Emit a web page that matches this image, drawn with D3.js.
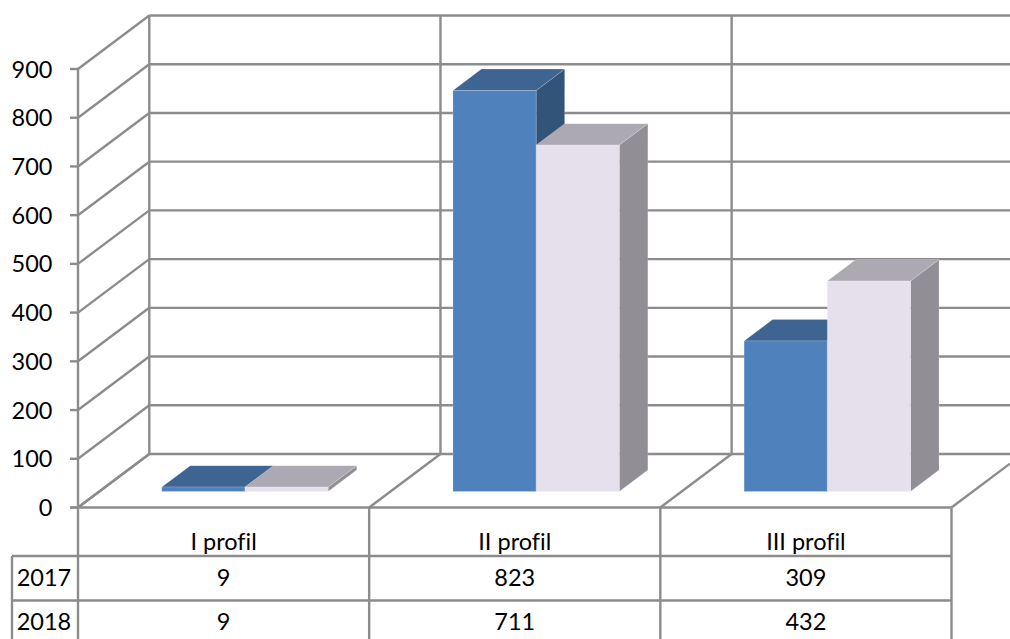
<!DOCTYPE html>
<html><head><meta charset="utf-8">
<script src="https://cdn.jsdelivr.net/npm/d3@7"></script>
<style>html,body{margin:0;background:#fff}svg{display:block}text{font-family:Lato,"Open Sans",sans-serif;font-size:23.5px;fill:#000;font-variant-ligatures:none}</style>
</head><body><svg id="c" width="1010" height="639"></svg>
<script>
const categories = ["I profil","II profil","III profil"];
const seriesNames = ["2017","2018"];
const values2017 = [9,823,309];
const values2018 = [9,711,432];
const tickValues = [0,100,200,300,400,500,600,700,800,900];
const frontColors = ["#4F81BD","#E6E0EC"], topColors = ["#3E6491","#ADA9B3"], sideColors = ["#335479","#918E95"];
const grid = "#8C8C8C";

const svg = d3.select("#c");
const W = 1010;
const x = d3.scaleBand().domain(categories).range([78,951.5]);
const y = d3.scaleLinear().domain([0,900]).range([507.5,69]);
const dX = 71.3, dY = -53.5;             // full depth of the 3-D box
const barT0 = 0.3, barT1 = 0.7;          // bar depth within the box
const at = (px,py,t)=>[px+dX*t, py+dY*t];
const line = (a,b,w=2.4)=>svg.append("line").attr("x1",a[0]).attr("y1",a[1]).attr("x2",b[0]).attr("y2",b[1]).attr("stroke",grid).attr("stroke-width",w);

// walls
tickValues.forEach(v=>{
  const p=[x.range()[0],y(v)];
  const q=at(p[0],p[1],1);
  line(p,q);
  line(q,[W,q[1]]);
  line([70,p[1]],p);
});
const bounds = categories.map(c=>x(c)).concat([x.range()[1]]);
bounds.slice(0,3).forEach(b=>line(at(b,y(0),1),at(b,y(900),1)));
line([x.range()[0],y(0)],[x.range()[0],y(900)]);
bounds.forEach(b=>{
  const end = at(b,y(0),1);
  const k = end[0]>W ? (W-b)/dX : 1;
  line([b,y(0)],at(b,y(0),k));
});
line([70,y(0)],[x.range()[1],y(0)]);

// bars
const inner = d3.scaleBand().domain(seriesNames).paddingInner(0).paddingOuter(0.75)
  .range([0,x.bandwidth()]);
const h0 = y(0);
const poly=(pts,fill)=>svg.append("polygon").attr("points",pts.map(p=>p.join(",")).join(" ")).attr("fill",fill).attr("stroke","#fff").attr("stroke-opacity",.25).attr("stroke-width",.7);
const depth=barT1-barT0;
categories.forEach((c,i)=>{
  [values2017,values2018].forEach((vals,s)=>{
    const xl=x(c)+inner(seriesNames[s])+dX*barT0, xr=xl+inner.bandwidth();
    const yb=h0+dY*barT0, yt=yb-(h0-y(vals[i]));
    const ddx=dX*depth, ddy=dY*depth;
    poly([[xr,yt],[xr+ddx,yt+ddy],[xr+ddx,yb+ddy],[xr,yb]],sideColors[s]);
    poly([[xl,yt],[xl+ddx,yt+ddy],[xr+ddx,yt+ddy],[xr,yt]],topColors[s]);
    poly([[xl,yt],[xr,yt],[xr,yb],[xl,yb]],frontColors[s]);
  });
});

// y labels
tickValues.forEach(v=>svg.append("text").attr("x",52.5).attr("y",y(v)+8.5).attr("text-anchor","end").text(v));

// data table
const rowY = [556,600.5,639];
const rows = [values2017,values2018];
bounds.forEach(b=>line([b,y(0)],[b,639]));
line([12,rowY[0]],[x.range()[1],rowY[0]]);
line([12,rowY[1]],[x.range()[1],rowY[1]]);
line([12,rowY[0]],[12,639]);
categories.forEach(c=>svg.append("text").attr("x",x(c)+x.bandwidth()/2).attr("y",549.5).attr("text-anchor","middle").text(c));
seriesNames.forEach((n,r)=>{
  svg.append("text").attr("x",44).attr("y",rowY[r]+29.5).attr("text-anchor","middle").text(n);
  categories.forEach((c,i)=>svg.append("text").attr("x",x(c)+x.bandwidth()/2).attr("y",rowY[r]+29.5).attr("text-anchor","middle").text(rows[r][i]));
});
</script></body></html>
